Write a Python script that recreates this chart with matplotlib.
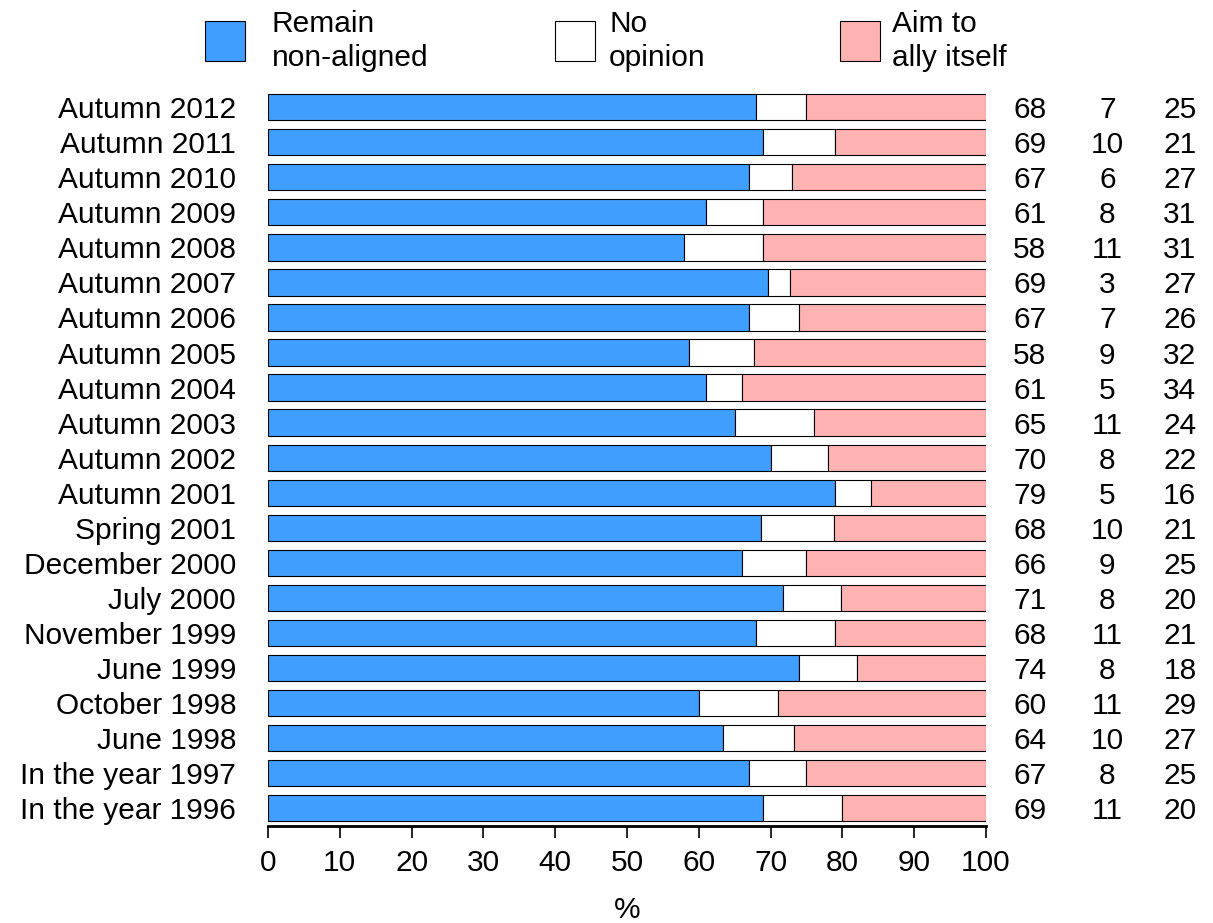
import numpy as np
import matplotlib.pyplot as plt
from matplotlib.patches import Rectangle

plt.rcParams['font.family'] = ['Liberation Sans', 'DejaVu Sans']

# Данные (сверху вниз)
periods = ["Autumn 2012", "Autumn 2011", "Autumn 2010", "Autumn 2009", "Autumn 2008",
           "Autumn 2007", "Autumn 2006", "Autumn 2005", "Autumn 2004", "Autumn 2003",
           "Autumn 2002", "Autumn 2001", "Spring 2001", "December 2000", "July 2000",
           "November 1999", "June 1999", "October 1998", "June 1998",
           "In the year 1997", "In the year 1996"]
non_aligned = [68, 69, 67, 61, 58, 69, 67, 58, 61, 65, 70, 79, 68, 66, 71, 68, 74, 60, 64, 67, 69]
no_opinion = [7, 10, 6, 8, 11, 3, 7, 9, 5, 11, 8, 5, 10, 9, 8, 11, 8, 11, 10, 8, 11]
ally = [25, 21, 27, 31, 31, 27, 26, 32, 34, 24, 22, 16, 21, 25, 20, 21, 18, 29, 27, 25, 20]
legend_labels = ["Remain\nnon-aligned", "No\nopinion", "Aim to\nally itself"]
colors = ["#409EFF", "#FFFFFF", "#FFB3B3"]

W, H = 1213, 923
fig = plt.figure(figsize=(W / 100, H / 100), dpi=100)
ax = fig.add_axes([268 / W, 1 - 826 / H, (986 - 268) / W, (826 - 90) / H])

fs = 21.5
a = np.array(non_aligned, float)
b = np.array(no_opinion, float)
c = np.array(ally, float)
tot = a + b + c
a, b, c = a / tot * 100, b / tot * 100, c / tot * 100

y = np.arange(len(periods))
h = 0.75
ax.barh(y, a, height=h, color=colors[0], edgecolor='black', linewidth=0.8)
ax.barh(y, b, left=a, height=h, color=colors[1], edgecolor='black', linewidth=0.8)
ax.barh(y, c, left=a + b, height=h, color=colors[2], edgecolor='black', linewidth=0.8)

ax.set_xlim(0, 100)
ax.set_ylim(20.51, -0.49)
ax.set_yticks(y)
ax.set_yticklabels(periods, fontsize=fs)
ax.tick_params(axis='y', length=0, pad=23)
ax.set_xticks(np.arange(0, 101, 10))
ax.tick_params(axis='x', labelsize=fs, length=8.6, width=1.2, pad=8, direction='out')
ax.set_xlabel("%", fontsize=fs, labelpad=14)

for s in ['top', 'right', 'left']:
    ax.spines[s].set_visible(False)
ax.spines['bottom'].set_linewidth(2)
ax.spines['bottom'].set_bounds(0, 100)

# Числа справа
for col, vals in zip([106.1, 116.9, 127.0], [non_aligned, no_opinion, ally]):
    for yi, v in zip(y, vals):
        ax.text(col, yi, str(v), ha='center', va='center_baseline', fontsize=fs, clip_on=False)

# Легенда вручную
for x0, tx, col, lab in zip([205, 555, 840], [272, 609, 892], colors, legend_labels):
    fig.add_artist(Rectangle((x0 / W, 1 - 61 / H), 40 / W, 40 / H,
                             transform=fig.transFigure, facecolor=col,
                             edgecolor='black', linewidth=0.8))
    fig.text(tx / W, 1 - 41 / H, lab, ha='left', va='center', fontsize=fs,
             linespacing=1.3)

fig.savefig("out.png", dpi=100)
